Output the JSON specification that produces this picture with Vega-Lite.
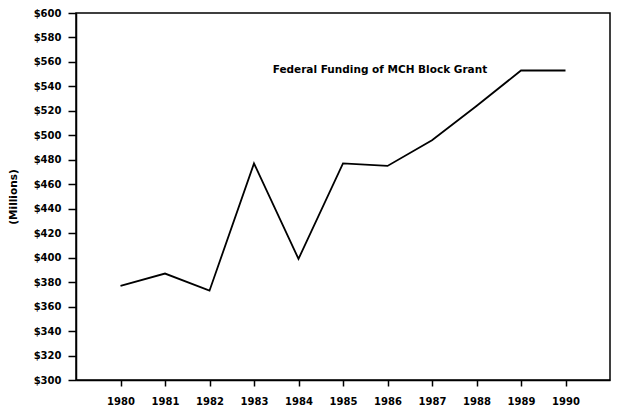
{
  "$schema": "https://vega.github.io/schema/vega-lite/v6.json",
  "width": 534,
  "height": 367,
  "autosize": {"type": "none"},
  "padding": {"left": 76, "top": 13, "right": 11, "bottom": 33},
  "background": "white",
  "config": {
    "view": {"stroke": "black", "strokeWidth": 1.5},
    "axis": {
      "grid": false,
      "domainColor": "black",
      "tickColor": "black",
      "labelColor": "black",
      "titleColor": "black",
      "labelFont": "DejaVu Sans",
      "labelFontWeight": "bold",
      "labelFontSize": 10,
      "labelOverlap": false,
      "labelFlush": false,
      "titleFont": "DejaVu Sans",
      "titleFontWeight": "bold",
      "domainWidth": 1.5,
      "tickWidth": 1.5
    }
  },
  "data": {
    "values": [
      {"year": 1980, "value": 377},
      {"year": 1981, "value": 387},
      {"year": 1982, "value": 373},
      {"year": 1983, "value": 477},
      {"year": 1984, "value": 399},
      {"year": 1985, "value": 477},
      {"year": 1986, "value": 475},
      {"year": 1987, "value": 496},
      {"year": 1988, "value": 524},
      {"year": 1989, "value": 553},
      {"year": 1990, "value": 553}
    ]
  },
  "layer": [
    {
      "mark": {"type": "line", "color": "black", "strokeWidth": 1.8},
      "encoding": {
        "x": {
          "field": "year",
          "type": "quantitative",
          "scale": {"domain": [1979, 1991], "nice": false, "zero": false},
          "axis": {
            "values": [1980, 1981, 1982, 1983, 1984, 1985, 1986, 1987, 1988, 1989, 1990],
            "tickCount": 30,
            "format": "d",
            "tickSize": 6,
            "labelPadding": 10,
            "title": null
          }
        },
        "y": {
          "field": "value",
          "type": "quantitative",
          "scale": {"domain": [300, 600], "nice": false, "zero": false},
          "axis": {
            "values": [300, 320, 340, 360, 380, 400, 420, 440, 460, 480, 500, 520, 540, 560, 580, 600],
            "tickCount": 30,
            "labelExpr": "'$' + datum.value",
            "tickSize": 8,
            "labelPadding": 7,
            "title": "(Millions)",
            "titleFontSize": 10.5,
            "titlePadding": 15
          }
        }
      }
    },
    {
      "data": {"values": [{"year": 1983.42, "value": 553, "label": "Federal Funding of MCH Block Grant"}]},
      "mark": {"type": "text", "align": "left", "baseline": "middle", "font": "DejaVu Sans", "fontWeight": "bold", "fontSize": 10.5, "color": "black"},
      "encoding": {
        "x": {"field": "year", "type": "quantitative"},
        "y": {"field": "value", "type": "quantitative"},
        "text": {"field": "label"}
      }
    }
  ]
}
